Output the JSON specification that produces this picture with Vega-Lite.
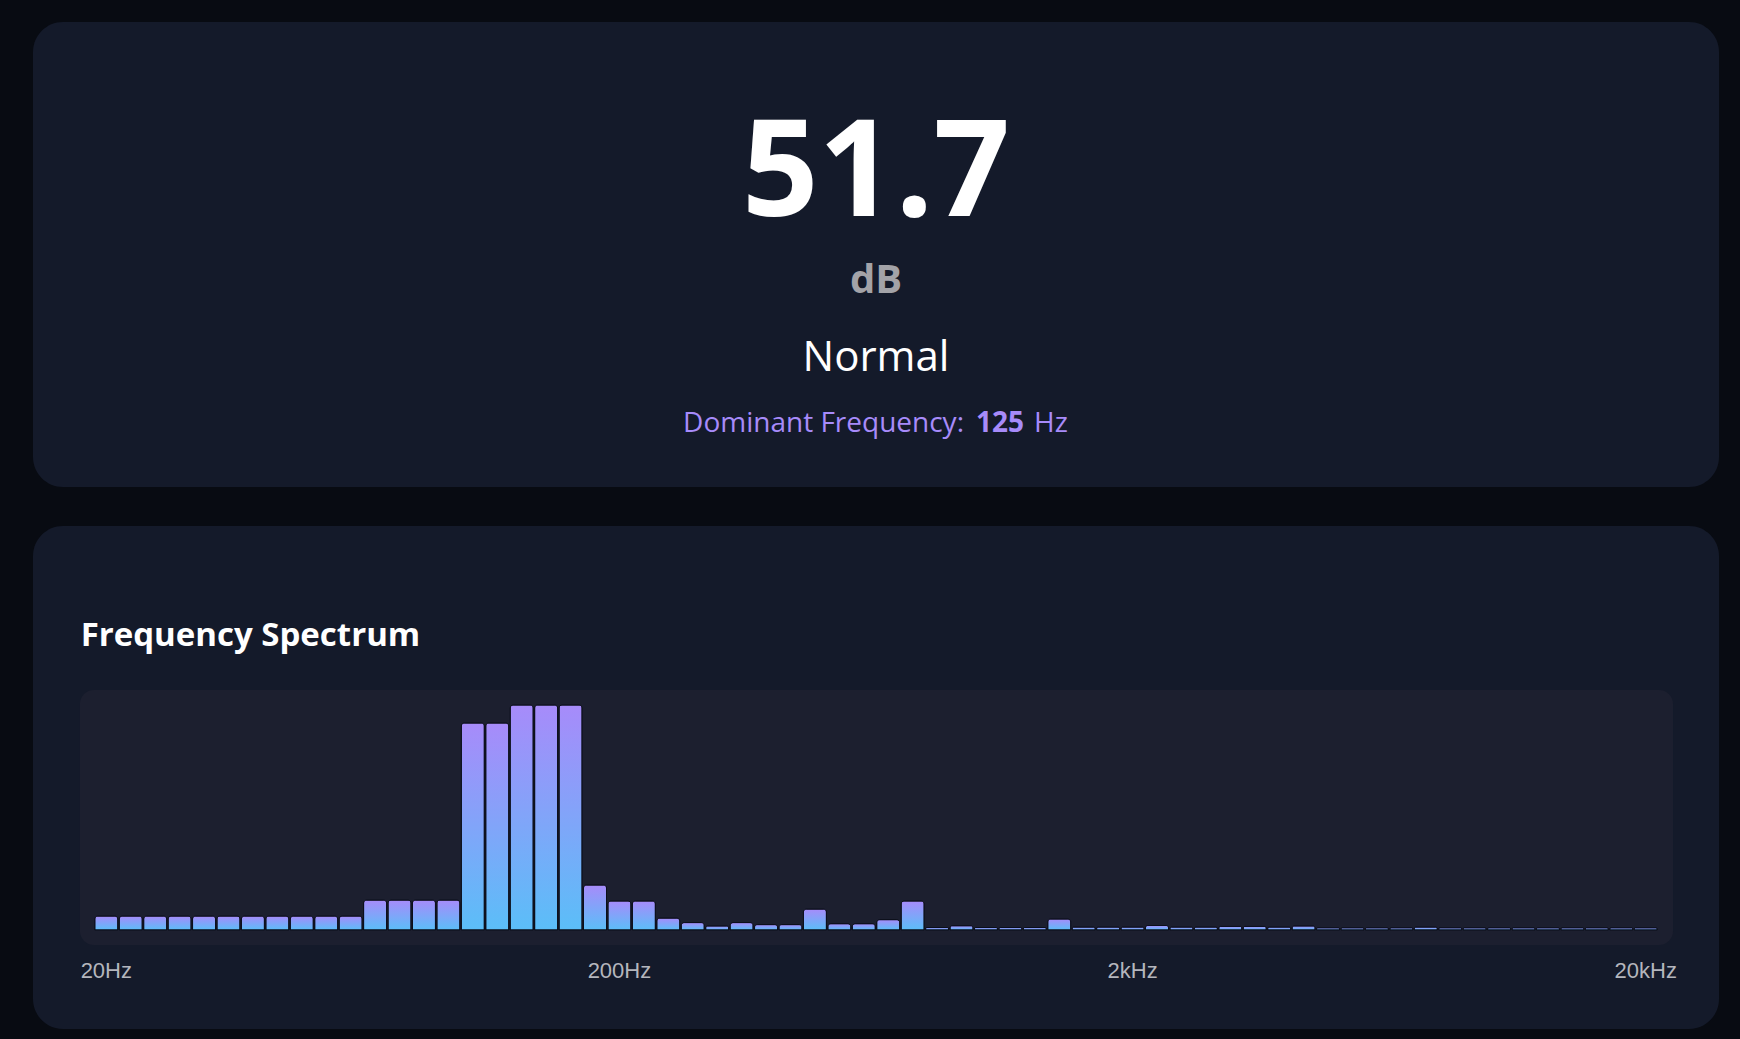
{
  "$schema": "https://vega.github.io/schema/vega-lite/v6.json",
  "background": "#080b12",
  "padding": {"left": 33, "top": 22, "right": 21, "bottom": 10},
  "spacing": 39,
  "config": {
    "view": {"stroke": null},
    "font": "Open Sans",
    "axis": {"domain": false, "ticks": false, "grid": false}
  },
  "datasets": {
    "reading": [
      {"item": "Level", "label": "51.7"},
      {"item": "Unit", "label": "dB"},
      {"item": "Status", "label": "Normal"},
      {"item": "Dominant", "label": "125"}
    ],
    "spectrum": [
      {"band": 1, "level": 6.2}, {"band": 2, "level": 6.2}, {"band": 3, "level": 6.2}, {"band": 4, "level": 6.2},
      {"band": 5, "level": 6.2}, {"band": 6, "level": 6.2}, {"band": 7, "level": 6.2}, {"band": 8, "level": 6.2},
      {"band": 9, "level": 6.2}, {"band": 10, "level": 6.2}, {"band": 11, "level": 6.2}, {"band": 12, "level": 13.3},
      {"band": 13, "level": 13.3}, {"band": 14, "level": 13.3}, {"band": 15, "level": 13.3}, {"band": 16, "level": 92},
      {"band": 17, "level": 92}, {"band": 18, "level": 100}, {"band": 19, "level": 100}, {"band": 20, "level": 100},
      {"band": 21, "level": 20}, {"band": 22, "level": 12.9}, {"band": 23, "level": 12.9}, {"band": 24, "level": 5.3},
      {"band": 25, "level": 3.3}, {"band": 26, "level": 1.8}, {"band": 27, "level": 3.3}, {"band": 28, "level": 2.4},
      {"band": 29, "level": 2.4}, {"band": 30, "level": 9.3}, {"band": 31, "level": 2.8}, {"band": 32, "level": 2.8},
      {"band": 33, "level": 4.6}, {"band": 34, "level": 12.9}, {"band": 35, "level": 1.1}, {"band": 36, "level": 1.9},
      {"band": 37, "level": 1.1}, {"band": 38, "level": 1.1}, {"band": 39, "level": 1.1}, {"band": 40, "level": 4.9},
      {"band": 41, "level": 1.3}, {"band": 42, "level": 1.3}, {"band": 43, "level": 1.3}, {"band": 44, "level": 2.0},
      {"band": 45, "level": 1.3}, {"band": 46, "level": 1.3}, {"band": 47, "level": 1.6}, {"band": 48, "level": 1.6},
      {"band": 49, "level": 1.3}, {"band": 50, "level": 1.8}, {"band": 51, "level": 1.0}, {"band": 52, "level": 1.0},
      {"band": 53, "level": 1.0}, {"band": 54, "level": 1.0}, {"band": 55, "level": 1.3}, {"band": 56, "level": 1.0},
      {"band": 57, "level": 1.0}, {"band": 58, "level": 1.0}, {"band": 59, "level": 1.0}, {"band": 60, "level": 1.0},
      {"band": 61, "level": 1.0}, {"band": 62, "level": 1.0}, {"band": 63, "level": 1.0}, {"band": 64, "level": 1.0}
    ],
    "bandLabels": [
      {"band": 1, "label": "20Hz"},
      {"band": 22, "label": "200Hz"},
      {"band": 43, "label": "2kHz"},
      {"band": 64, "label": "20kHz"}
    ]
  },
  "vconcat": [
    {
      "width": 1686,
      "height": 465,
      "view": {"fill": "#141a2a", "cornerRadius": 30, "stroke": null},
      "data": {"name": "reading"},
      "encoding": {
        "y": {
          "field": "item",
          "type": "nominal",
          "axis": null,
          "scale": {"type": "point", "domain": ["Level", "Unit", "Status", "Dominant"], "range": [194, 410], "padding": 0}
        }
      },
      "layer": [
        {
          "transform": [{"filter": "datum.item == 'Level'"}],
          "mark": {"type": "text", "fontSize": 134, "fontWeight": "bold", "color": "#ffffff", "baseline": "alphabetic"},
          "encoding": {"text": {"field": "label"}}
        },
        {
          "transform": [{"filter": "datum.item == 'Unit'"}],
          "mark": {"type": "text", "fontSize": 40, "fontWeight": "bold", "color": "#a3a3a8", "baseline": "alphabetic", "dy": 5},
          "encoding": {"text": {"field": "label"}}
        },
        {
          "transform": [{"filter": "datum.item == 'Status'"}],
          "mark": {"type": "text", "fontSize": 42, "color": "#ffffff", "baseline": "alphabetic", "dy": 11},
          "encoding": {"text": {"field": "label"}}
        },
        {
          "transform": [{"filter": "datum.item == 'Dominant'"}],
          "mark": {"type": "text", "fontSize": 28, "color": "#a78bfa", "baseline": "alphabetic", "align": "right", "dx": 88, "text": "Dominant Frequency:"},
          "encoding": {}
        },
        {
          "transform": [{"filter": "datum.item == 'Dominant'"}],
          "mark": {"type": "text", "fontSize": 28, "fontWeight": "bold", "color": "#a78bfa", "baseline": "alphabetic", "align": "left", "dx": 100},
          "encoding": {"text": {"field": "label"}}
        },
        {
          "transform": [{"filter": "datum.item == 'Dominant'"}],
          "mark": {"type": "text", "fontSize": 28, "color": "#a78bfa", "baseline": "alphabetic", "align": "left", "dx": 158, "text": "Hz"},
          "encoding": {}
        }
      ]
    },
    {
      "width": 1686,
      "height": 503,
      "view": {"fill": "#141a2a", "cornerRadius": 30, "stroke": null},
      "layer": [
        {
          "data": {"values": [{"part": "plot area"}]},
          "mark": {"type": "rect", "fill": "#1c1f2f", "cornerRadius": 14},
          "encoding": {
            "x": {"datum": -0.08, "type": "quantitative", "axis": null},
            "x2": {"datum": 65.12},
            "y": {"datum": -6.67, "type": "quantitative", "axis": null},
            "y2": {"datum": 106.67}
          }
        },
        {
          "data": {"name": "spectrum"},
          "mark": {
            "type": "bar",
            "width": 23,
            "stroke": "#0b0e1a",
            "strokeWidth": 1,
            "cornerRadiusTopLeft": 3,
            "cornerRadiusTopRight": 3,
            "color": {
              "gradient": "linear",
              "x1": 0, "y1": 0, "x2": 0, "y2": 1,
              "stops": [
                {"offset": 0, "color": "#a78bfa"},
                {"offset": 1, "color": "#5bbef8"}
              ]
            }
          },
          "encoding": {
            "x": {
              "field": "band",
              "type": "quantitative",
              "scale": {"domain": [-2, 67], "nice": false, "zero": false, "padding": 0},
              "axis": null
            },
            "y": {
              "field": "level",
              "type": "quantitative",
              "scale": {"domain": [-44, 179.56], "nice": false, "zero": false, "padding": 0},
              "axis": null
            }
          }
        },
        {
          "data": {"name": "bandLabels"},
          "mark": {"type": "text", "align": "center", "baseline": "alphabetic", "font": "Liberation Sans", "fontSize": 22, "color": "#b4b6bd"},
          "encoding": {
            "x": {"field": "band", "type": "quantitative", "axis": null},
            "y": {"datum": -21.3, "type": "quantitative", "axis": null},
            "text": {"field": "label"}
          }
        },
        {
          "data": {"values": [{"heading": "Frequency Spectrum"}]},
          "mark": {"type": "text", "align": "left", "baseline": "alphabetic", "fontSize": 33, "fontWeight": "bold", "color": "#ffffff"},
          "encoding": {
            "x": {"datum": -0.05, "type": "quantitative", "axis": null},
            "y": {"datum": 126.2, "type": "quantitative", "axis": null},
            "text": {"field": "heading"}
          }
        }
      ]
    }
  ]
}
